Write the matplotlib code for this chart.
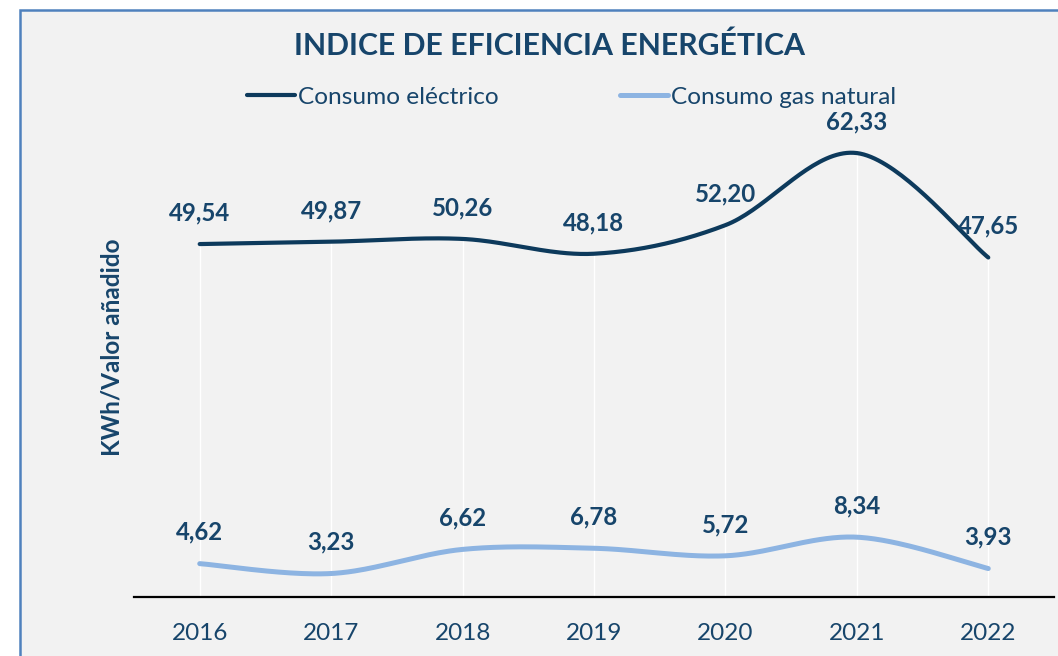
import numpy as np
import matplotlib
matplotlib.use('Agg')
import matplotlib.pyplot as plt
from matplotlib.patches import Rectangle
from matplotlib.lines import Line2D

# ---- data ----
years = ['2016', '2017', '2018', '2019', '2020', '2021', '2022']
electrico = [49.54, 49.87, 50.26, 48.18, 52.20, 62.33, 47.65]
gas_natural = [4.62, 3.23, 6.62, 6.78, 5.72, 8.34, 3.93]
series_names = ['Consumo eléctrico', 'Consumo gas natural']
title = 'INDICE DE EFICIENCIA ENERGÉTICA'
ylabel = 'KWh/Valor añadido'

# ---- style ----
FONT = ['Lato', 'DejaVu Sans']
NAVY = '#17456b'
C_ELEC = '#0d3a5c'
C_GAS = '#8db4e2'
BG = '#f2f2f2'
BORDER = '#4f81bd'

W, H = 1058, 656
fig = plt.figure(figsize=(W / 100, H / 100), dpi=100, facecolor='white')

# chart area with border
bg = Rectangle((20 / W, -0.1), 1.2, 1 - 10 / H + 0.1,
               transform=fig.transFigure, facecolor=BG,
               edgecolor=BORDER, linewidth=1.8, zorder=-10)
fig.patches.append(bg)

ax = fig.add_axes([134 / W, 1 - 596.5 / H, 920 / W, (596.5 - 98.5) / H])
ax.set_facecolor('none')
ax.set_xlim(-0.5, len(years) - 0.5)
ax.set_ylim(0, 70)


def excel_smooth(x, y, n=40):
    pts = np.column_stack([x, y]).astype(float)
    m = len(pts)
    out = []
    t = np.linspace(0, 1, n)[:, None]
    for i in range(m - 1):
        p0 = pts[max(i - 1, 0)]
        p1 = pts[i]
        p2 = pts[i + 1]
        p3 = pts[min(i + 2, m - 1)]
        c1 = p1 + (p2 - p0) / 6
        c2 = p2 - (p3 - p1) / 6
        seg = ((1 - t) ** 3) * p1 + 3 * ((1 - t) ** 2) * t * c1 + 3 * (1 - t) * t ** 2 * c2 + t ** 3 * p2
        out.append(seg if i == 0 else seg[1:])
    return np.vstack(out)


x = np.arange(len(years))

# drop lines
tops = np.maximum(electrico, gas_natural)
ax.vlines(x, 0, tops, colors='white', linewidth=1.0, zorder=1)

for vals, col, lw in [(electrico, C_ELEC, 3.0), (gas_natural, C_GAS, 3.6)]:
    sm = excel_smooth(x, vals)
    ax.plot(sm[:, 0], sm[:, 1], color=col, lw=lw, solid_capstyle='round', zorder=3)
    for xi, v in zip(x, vals):
        ax.annotate(f'{v:.2f}'.replace('.', ','), (xi, v), xytext=(0, 22.5),
                    textcoords='offset points', ha='center', va='center',
                    fontsize=17.3, fontweight='bold', color=NAVY, family=FONT, zorder=4)

# axes styling
for s in ['left', 'right', 'top']:
    ax.spines[s].set_visible(False)
ax.spines['bottom'].set_color('black')
ax.spines['bottom'].set_linewidth(1.6)
ax.set_yticks([])
ax.set_xticks(x)
ax.set_xticklabels(years, fontsize=17.5, color=NAVY, family=FONT)
ax.tick_params(axis='x', length=0, pad=19)

ax.set_ylabel(ylabel, fontsize=17.5, fontweight='bold', color=NAVY, family=FONT)
ax.yaxis.set_label_coords(-0.011, 0.5)

fig.text(550 / W, 1 - 46 / H, title, ha='center', va='center', fontsize=21.8,
         fontweight='bold', color=NAVY, family=FONT)

handles = [Line2D([], [], color=C_ELEC, lw=3.0, solid_capstyle='round'),
           Line2D([], [], color=C_GAS, lw=3.6, solid_capstyle='round')]
leg = fig.legend(handles, series_names, loc='center', bbox_to_anchor=(571.5 / W, 1 - 97 / H),
                 ncol=2, frameon=False, handlelength=1.95, handletextpad=0.12,
                 columnspacing=5.0, borderpad=0, prop={'family': FONT, 'size': 17.6})
for t in leg.get_texts():
    t.set_color(NAVY)

fig.savefig('out.png', dpi=100, facecolor='white')
